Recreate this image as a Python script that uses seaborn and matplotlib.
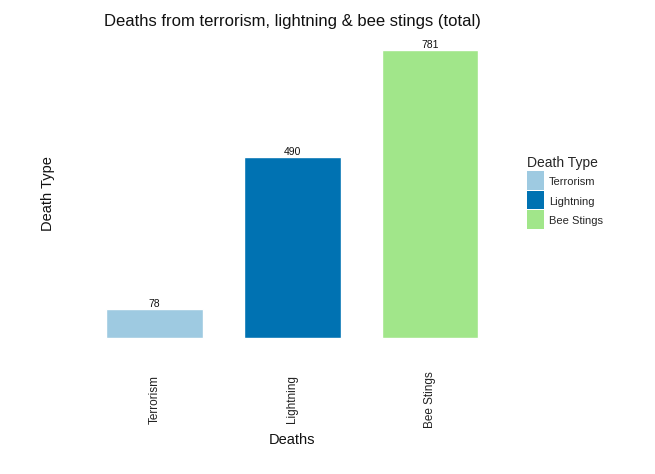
import matplotlib
matplotlib.use("Agg")
import matplotlib.pyplot as plt
import pandas as pd
import seaborn as sns
from matplotlib.legend_handler import HandlerPatch
from matplotlib.patches import Rectangle

# data
death_types = ["Terrorism", "Lightning", "Bee Stings"]
deaths = [78, 490, 781]
bar_colors = ["#9ecae1", "#0072b2", "#a1e68a"]

df = pd.DataFrame({"Death Type": death_types, "Deaths": deaths})

sns.set_theme(style="white")
plt.rcParams["font.family"] = ["Liberation Sans", "DejaVu Sans"]

fig = plt.figure(figsize=(6.55, 4.74), dpi=100)
ax = fig.add_axes([0.110, 0.257, 0.673, 0.668])

sns.barplot(
    data=df, x="Death Type", y="Deaths", hue="Death Type",
    order=death_types, hue_order=death_types,
    palette=bar_colors, width=0.7, saturation=1, dodge=False,
    ax=ax, legend=True,
)

for c in ax.containers:
    ax.bar_label(c, fontsize=7.5, color="#111111", padding=0)

ax.set_xlim(-0.6, 2.6)
ax.set_ylim(-781 * 0.05, 781 * 1.05)
for s in ax.spines.values():
    s.set_visible(False)
ax.set_yticks([])
ax.tick_params(axis="x", length=0, pad=34, labelsize=8.5, labelcolor="#222222")
plt.setp(ax.get_xticklabels(), rotation=90, va="center")

ax.set_xlabel("Deaths", fontsize=10.5, labelpad=4, color="#111111")
ax.set_ylabel("Death Type", fontsize=10.5, labelpad=12, color="#111111")
ax.set_title("Deaths from terrorism, lightning & bee stings (total)",
             fontsize=12, pad=7, color="#111111")


# legend keys filling the key box (small white gap on top), like ggplot
def full_key(legend, orig_handle, xdescent, ydescent, width, height, fontsize):
    return Rectangle((-xdescent, -ydescent), width, height + ydescent - 1.3)


handles, labels = ax.get_legend_handles_labels()
for h in handles:
    h.set_edgecolor("none")
ax.legend(
    handles, labels, title="Death Type", loc="upper left",
    bbox_to_anchor=(527 / 655, 1 - 156.5 / 474), bbox_transform=fig.transFigure,
    frameon=False, fontsize=8, title_fontsize=10,
    handlelength=1.55, handleheight=1.85, handletextpad=0.4,
    labelspacing=0.3, borderaxespad=0, borderpad=0,
    handler_map={h: HandlerPatch(patch_func=full_key) for h in handles},
)
ax.get_legend()._legend_box.align = "left"

fig.savefig("out.png", dpi=100)
